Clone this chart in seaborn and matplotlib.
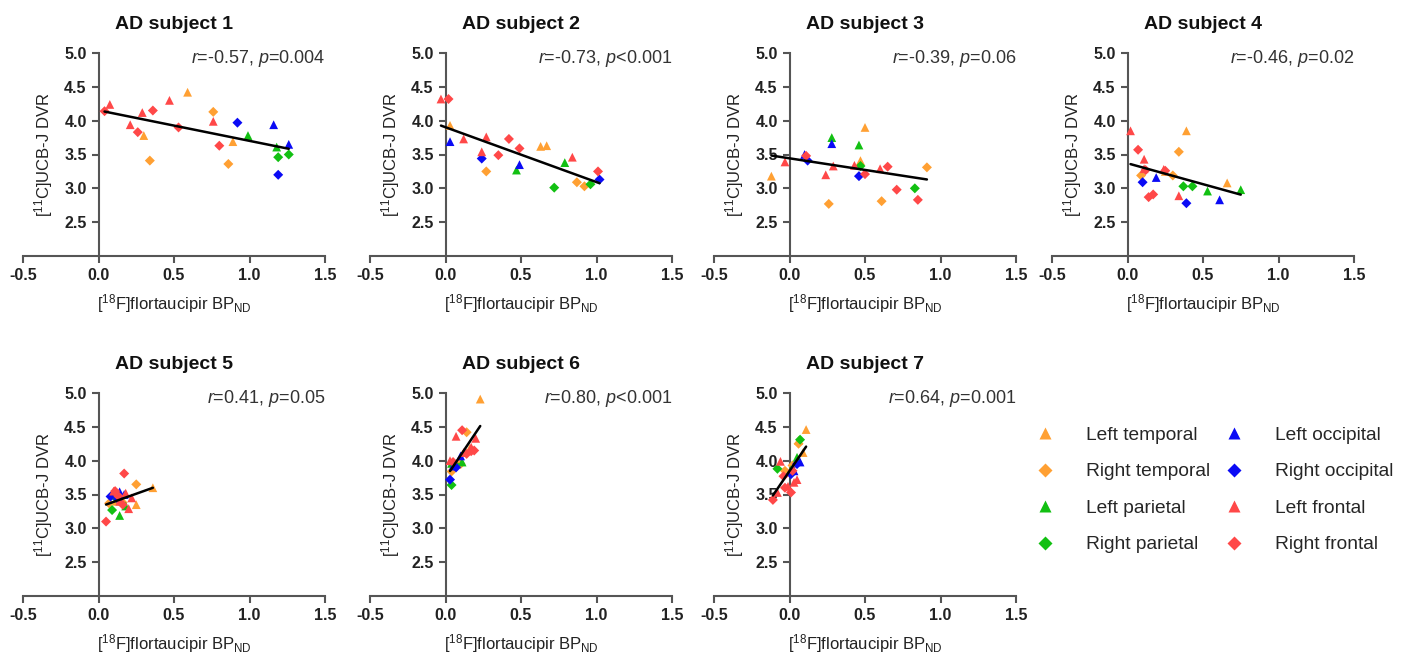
import numpy as np
import pandas as pd
import matplotlib
matplotlib.use("Agg")
import matplotlib.pyplot as plt
from matplotlib.lines import Line2D
import seaborn as sns

# ---------------- data ----------------
REGIONS = ["Left temporal", "Right temporal", "Left parietal", "Right parietal",
           "Left occipital", "Right occipital", "Left frontal", "Right frontal"]
REGION_COUNTS = [3, 3, 2, 2, 2, 2, 5, 5]
REGION_COLORS = ["#FFA033", "#FFA033", "#12C012", "#12C012",
                 "#0A0AF5", "#0A0AF5", "#FF4848", "#FF4848"]
REGION_MARKERS = ["^", "D", "^", "D", "^", "D", "^", "D"]

TITLES = ["AD subject 1", "AD subject 2", "AD subject 3", "AD subject 4",
          "AD subject 5", "AD subject 6", "AD subject 7"]
R_VALUES = ["-0.57", "-0.73", "-0.39", "-0.46", "0.41", "0.80", "0.64"]
P_VALUES = ["=0.004", "<0.001", "=0.06", "=0.02", "=0.05", "<0.001", "=0.001"]

# order of points: LT(3) RT(3) LP(2) RP(2) LO(2) RO(2) LF(5) RF(5)
S1_X = [0.30, 0.59, 0.89, 0.34, 0.76, 0.86, 0.99, 1.18, 1.19, 1.26, 1.16, 1.26, 0.92, 1.19,
        0.075, 0.21, 0.29, 0.47, 0.76, 0.04, 0.26, 0.36, 0.53, 0.80]
S1_Y = [3.78, 4.42, 3.69, 3.41, 4.13, 3.36, 3.78, 3.61, 3.46, 3.50, 3.94, 3.65, 3.97, 3.20,
        4.24, 3.94, 4.12, 4.30, 3.99, 4.14, 3.83, 4.15, 3.90, 3.63]

S2_X = [0.03, 0.63, 0.67, 0.27, 0.87, 0.92, 0.47, 0.79, 0.72, 0.96, 0.03, 0.49, 0.24, 1.02,
        -0.03, 0.12, 0.24, 0.27, 0.84, 0.02, 0.35, 0.42, 0.49, 1.01]
S2_Y = [3.93, 3.62, 3.63, 3.25, 3.09, 3.03, 3.27, 3.38, 3.01, 3.06, 3.69, 3.35, 3.44, 3.13,
        4.32, 3.73, 3.54, 3.76, 3.46, 4.32, 3.49, 3.73, 3.59, 3.25]

S3_X = [-0.12, 0.50, 0.47, 0.26, 0.61, 0.91, 0.28, 0.46, 0.47, 0.83, 0.10, 0.28, 0.12, 0.46,
        -0.03, 0.24, 0.29, 0.43, 0.60, 0.11, 0.50, 0.65, 0.71, 0.85]
S3_Y = [3.18, 3.90, 3.41, 2.77, 2.81, 3.31, 3.75, 3.64, 3.33, 3.00, 3.50, 3.66, 3.41, 3.18,
        3.39, 3.20, 3.33, 3.34, 3.29, 3.48, 3.21, 3.32, 2.98, 2.83]

S4_X = [0.39, 0.25, 0.66, 0.34, 0.09, 0.30, 0.53, 0.75, 0.37, 0.43, 0.19, 0.61, 0.10, 0.39,
        0.02, 0.11, 0.11, 0.24, 0.34, 0.07, 0.12, 0.14, 0.17, 0.25]
S4_Y = [3.85, 3.25, 3.08, 3.54, 3.19, 3.19, 2.96, 2.98, 3.03, 3.03, 3.16, 2.83, 3.09, 2.78,
        3.85, 3.43, 3.29, 3.28, 2.89, 3.57, 3.27, 2.87, 2.91, 3.26]

S5_X = [0.36, 0.25, 0.12, 0.25, 0.07, 0.16, 0.14, 0.18, 0.09, 0.11, 0.14, 0.17, 0.08, 0.13,
        0.10, 0.18, 0.22, 0.20, 0.14, 0.05, 0.17, 0.11, 0.16, 0.13]
S5_Y = [3.60, 3.35, 3.40, 3.65, 3.37, 3.38, 3.19, 3.33, 3.27, 3.46, 3.54, 3.50, 3.47, 3.43,
        3.55, 3.52, 3.45, 3.29, 3.40, 3.10, 3.81, 3.55, 3.35, 3.48]

S6_X = [0.23, 0.16, 0.09, 0.14, 0.04, 0.10, 0.04, 0.11, 0.04, 0.06, 0.10, 0.05, 0.03, 0.07,
        0.07, 0.20, 0.03, 0.12, 0.17, 0.11, 0.17, 0.05, 0.14, 0.19]
S6_Y = [4.91, 4.18, 4.00, 4.42, 3.84, 3.95, 3.96, 3.98, 3.64, 3.95, 4.07, 3.92, 3.72, 3.90,
        4.36, 4.33, 4.00, 4.12, 4.20, 4.45, 4.14, 3.98, 4.10, 4.15]

S7_X = [0.11, 0.09, 0.06, 0.06, 0.02, -0.03, 0.01, 0.05, 0.07, -0.08, 0.07, 0.03, 0.01, 0.05,
        -0.06, 0.03, -0.08, -0.01, 0.05, -0.11, 0.01, -0.04, -0.03, 0.02]
S7_Y = [4.46, 4.12, 4.30, 4.25, 3.93, 3.85, 3.87, 4.05, 4.31, 3.88, 3.98, 3.85, 3.80, 3.95,
        3.99, 3.68, 3.53, 3.62, 3.72, 3.42, 3.53, 3.77, 3.60, 3.85]

SUBJECT_X = [S1_X, S2_X, S3_X, S4_X, S5_X, S6_X, S7_X]
SUBJECT_Y = [S1_Y, S2_Y, S3_Y, S4_Y, S5_Y, S6_Y, S7_Y]

X_TICKS = [-0.5, 0.0, 0.5, 1.0, 1.5]
Y_TICKS = [2.5, 3.0, 3.5, 4.0, 4.5, 5.0]

# ---------------- style ----------------
sns.set_style("ticks")
plt.rcParams["font.family"] = ["Liberation Sans", "DejaVu Sans"]
plt.rcParams["mathtext.fontset"] = "custom"
plt.rcParams["mathtext.rm"] = "Liberation Sans"
plt.rcParams["mathtext.it"] = "Liberation Sans:italic"
plt.rcParams["mathtext.bf"] = "Liberation Sans:bold"
plt.rcParams["axes.unicode_minus"] = False

region_list = [r for r, n in zip(REGIONS, REGION_COUNTS) for _ in range(n)]
shape_list = [("tri" if m == "^" else "dia") for m, n in zip(REGION_MARKERS, REGION_COUNTS) for _ in range(n)]
palette = dict(zip(REGIONS, REGION_COLORS))
markers = dict(zip(REGIONS, REGION_MARKERS))
marker_sizes = {"tri": 40, "dia": 26}

W, H = 1413, 656
fig = plt.figure(figsize=(W / 100, H / 100), dpi=100)

col_left = [23, 370, 714, 1052]
row_top = [53, 393]
ax_w, ax_h = 302, 203
spine_col = "#555555"

for i in range(7):
    r, c = divmod(i, 4)
    left = col_left[c] / W
    bottom = 1 - (row_top[r] + ax_h) / H
    ax = fig.add_axes([left, bottom, ax_w / W, ax_h / H])

    df = pd.DataFrame({"x": SUBJECT_X[i], "y": SUBJECT_Y[i],
                       "region": region_list, "shape": shape_list})
    sns.scatterplot(data=df, x="x", y="y", hue="region", style="region",
                    size="shape", sizes=marker_sizes,
                    palette=palette, markers=markers, hue_order=REGIONS,
                    style_order=REGIONS, edgecolor="none", linewidth=0,
                    legend=False, ax=ax, zorder=3)
    sns.regplot(data=df, x="x", y="y", scatter=False, ci=None, truncate=True,
                line_kws=dict(color="black", lw=1.8, zorder=4), ax=ax)

    ax.set_xlim(-0.5, 1.5)
    ax.set_ylim(2.0, 5.0)
    ax.spines["left"].set_position(("data", 0))
    ax.spines["top"].set_visible(False)
    ax.spines["right"].set_visible(False)
    for s in ("left", "bottom"):
        ax.spines[s].set_color(spine_col)
        ax.spines[s].set_linewidth(1.5)
    ax.set_xticks(X_TICKS)
    ax.set_xticklabels([f"{v:.1f}" for v in X_TICKS])
    ax.set_yticks(Y_TICKS)
    ax.set_yticklabels([f"{v:.1f}" for v in Y_TICKS])
    ax.tick_params(axis="both", colors=spine_col, width=1.5, length=5,
                   labelsize=11.5, labelcolor="#222222")
    for lab in ax.get_xticklabels() + ax.get_yticklabels():
        lab.set_fontweight("bold")

    ax.set_xlabel(r"[$^{18}$F]flortaucipir BP$_{\mathrm{ND}}$", fontsize=12, color="#222222")
    ax.set_ylabel(r"[$^{11}$C]UCB-J DVR", fontsize=12, color="#222222")
    ax.xaxis.set_label_coords(0.5, -0.18)
    ax.yaxis.set_label_coords(0.105, 0.5)
    ax.set_title(TITLES[i], fontsize=14, fontweight="bold", pad=17, color="#111111")
    ax.text(1.0, 0.975, r"$\it{r}$=" + R_VALUES[i] + r", $\it{p}$" + P_VALUES[i],
            transform=ax.transAxes, ha="right", va="center", fontsize=13, color="#333333")

handles = [Line2D([0], [0], marker=m, color="none", markerfacecolor=col,
                  markeredgecolor="none", markersize=8.5 if m == "^" else 7.0, linestyle="none")
           for m, col in zip(REGION_MARKERS, REGION_COLORS)]
fig.legend(handles, REGIONS, loc="upper left", bbox_to_anchor=(1018 / W, 1 - 409 / H),
           ncol=2, frameon=False, fontsize=13.8, handletextpad=1.63, columnspacing=0.75,
           labelspacing=1.0, handlelength=1.0)

fig.savefig("out.png", dpi=100)
